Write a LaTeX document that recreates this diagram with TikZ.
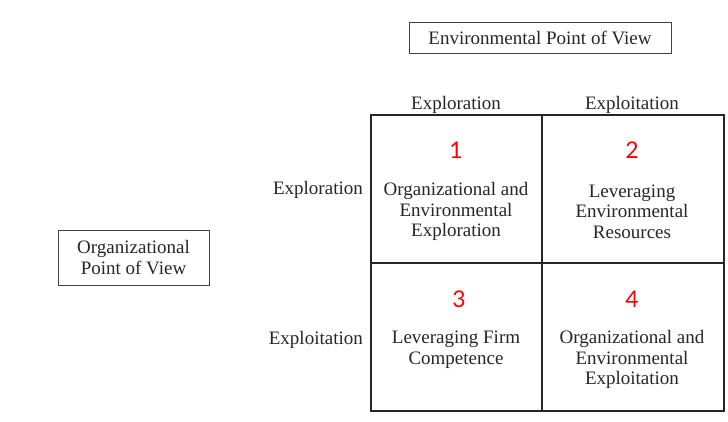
\documentclass[tikz,border=0pt]{standalone}
\usepackage{fontspec}
\setmainfont{Liberation Serif}
\newfontfamily\numfont{Lato}
\begin{document}
\begin{tikzpicture}[x=1pt,y=-1pt,
  every node/.style={font=\fontsize{19}{20.6}\selectfont, text=black!85, inner sep=0pt},
  viewbox/.style={draw=black!75, line width=1pt, minimum height=31pt, align=center},
  cell/.style={draw=black!85, line width=2pt, minimum width=171pt, minimum height=148pt},
  cellnum/.style={font=\numfont\fontsize{23}{23}\selectfont, text=red},
  celltext/.style={align=center},
  axislabel/.style={}]
\useasboundingbox (0,0) rectangle (728,421);

% perspective boxes
\node[viewbox, minimum width=262pt] (env) at (540,37.5) {Environmental Point of View};
\node[viewbox, minimum width=151pt, minimum height=55pt] (org) at (133.5,257.5) {Organizational\\Point of View};

% the 2x2 matrix
\node[cell, minimum width=171pt] (c1) at (456.5,189) {};
\node[cell, minimum width=182pt] (c2) at (633,189) {};
\node[cell, minimum width=171pt] (c3) at (456.5,336.5) {};
\node[cell, minimum width=182pt] (c4) at (633,336.5) {};

% column and row headings
\node[axislabel] (colA) at (456,105) {Exploration};
\node[axislabel] (colB) at (632,105) {Exploitation};
\node[axislabel, anchor=east] (rowA) at (363,190) {Exploration};
\node[axislabel, anchor=east] (rowB) at (363,339.5) {Exploitation};

% quadrant numbers
\node[cellnum] (n1) at (456,150) {1};
\node[cellnum] (n2) at (632,150) {2};
\node[cellnum] (n3) at (459,299) {3};
\node[cellnum] (n4) at (632,299) {4};

% quadrant contents
\node[celltext] (t1) at (456,211.5) {Organizational and\\Environmental\\Exploration};
\node[celltext] (t2) at (632,211.5) {Leveraging\\Environmental\\Resources};
\node[celltext] (t3) at (456,349.5) {Leveraging Firm\\Competence};
\node[celltext] (t4) at (632,359.5) {Organizational and\\Environmental\\Exploitation};
\end{tikzpicture}
\end{document}
